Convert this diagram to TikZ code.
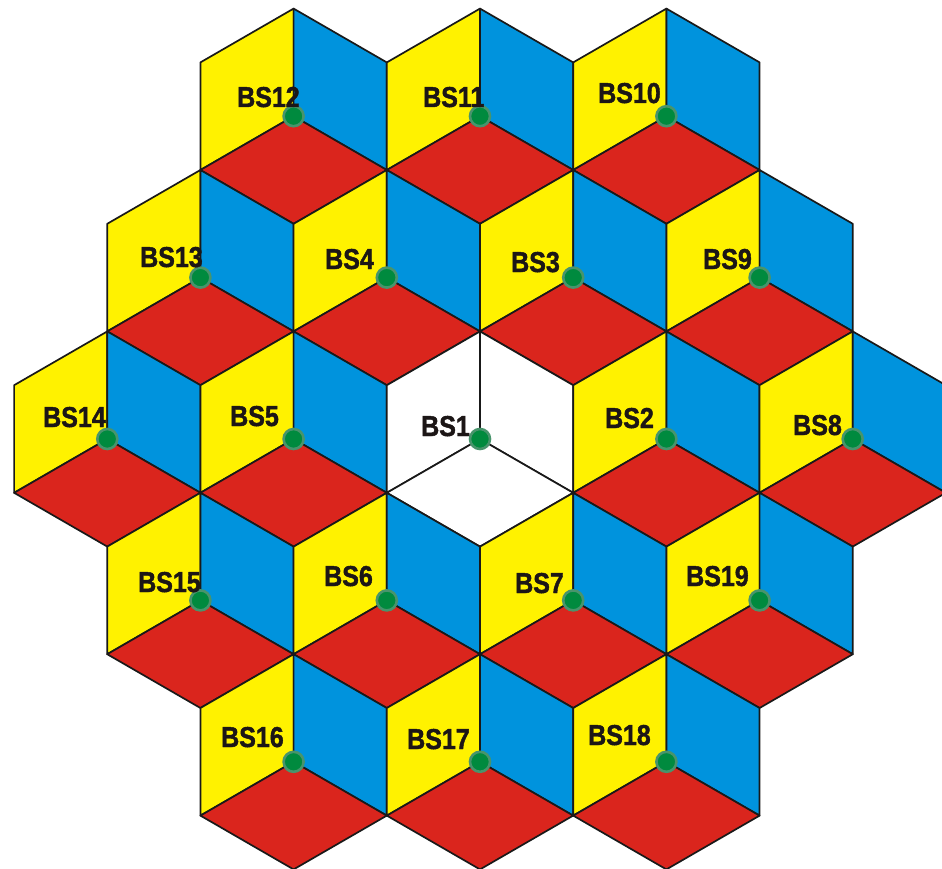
\documentclass[tikz,border=0pt]{standalone}
\usepackage{graphicx}
\usepackage{fontspec}
\setmainfont{Liberation Sans}
\newfontfamily\lblfont{Liberation Sans}[BoldFeatures={FakeBold=1.6}]
\definecolor{cyel}{RGB}{255,242,0}
\definecolor{cblu}{RGB}{0,147,221}
\definecolor{cred}{RGB}{218,37,29}
\definecolor{cdot}{RGB}{0,138,62}
\definecolor{cdotrim}{RGB}{72,148,108}
\definecolor{ctxt}{RGB}{28,22,22}
\def\R{107.6}
\def\W{93.18}
\def\H{53.8}
\newcommand\hexcell[5]{% name, x, y, left fill, right fill
  \begin{scope}[shift={(#2,#3)}]
    \path[rh,fill=#4] (0,0) -- (0,-\R) -- (-\W,-\H) -- (-\W,\H) -- cycle;
    \path[rh,fill=#5] (0,0) -- (0,-\R) -- (\W,-\H) -- (\W,\H) -- cycle;
  \end{scope}}
\newcommand\hexbottom[3]{%
  \begin{scope}[shift={(#1,#2)}]
    \path[rh,fill=#3] (0,0) -- (-\W,\H) -- (0,\R) -- (\W,\H) -- cycle;
  \end{scope}}
\tikzset{
  rh/.style={draw=black!90, line width=1.7pt, line join=round},
  bsdot/.style={circle, fill=cdot, draw=cdotrim, line width=2.6pt, minimum size=20pt, inner sep=0pt},
  bslabel/.style={anchor=base west, inner sep=0pt, text=ctxt, font=\fontsize{25}{25}\lblfont\bfseries}
}
\newcommand\bstext[1]{\scalebox{1}[1.15]{#1}}
\begin{document}
\begin{tikzpicture}[x=1pt,y=-1pt]
\useasboundingbox (0,0) rectangle (942,869);
\clip (0,0) rectangle (942,869);
\def\white{white}
\foreach \n/\x/\y/\c in {
  12/293.6/116.2/cyel, 11/480/116.2/cyel, 10/666.4/116.2/cyel,
  13/200.4/277.6/cyel, 4/386.8/277.6/cyel, 3/573.2/277.6/cyel, 9/759.6/277.6/cyel,
  14/107.3/439/cyel, 5/293.6/439/cyel, 1/480/439/white, 2/666.4/439/cyel, 8/852.7/439/cyel,
  15/200.4/600.4/cyel, 6/386.8/600.4/cyel, 7/573.2/600.4/cyel, 19/759.6/600.4/cyel,
  16/293.6/761.8/cyel, 17/480/761.8/cyel, 18/666.4/761.8/cyel}{
  \edef\tmp{\c}%
  \ifx\tmp\white
    \hexcell{\n}{\x}{\y}{white}{white}
    \hexbottom{\x}{\y}{white}
  \else
    \hexcell{\n}{\x}{\y}{cyel}{cblu}
    \hexbottom{\x}{\y}{cred}
  \fi
  \node[bsdot] (d\n) at (\x,\y) {};
}
\foreach \n/\lx/\ly in {
  1/421/436, 2/605/428, 3/511/272, 4/325/269, 5/230/426, 6/324/586,
  7/515/593, 8/793/435, 9/703/269, 10/598/103, 11/423/107, 12/237/107,
  13/140/267, 14/43/427, 15/138/592, 16/221/747, 17/407/749, 18/588/745, 19/686/586}{
  \node[bslabel] (l\n) at (\lx,\ly) {\bstext{BS\n}};
}
\end{tikzpicture}
\end{document}
